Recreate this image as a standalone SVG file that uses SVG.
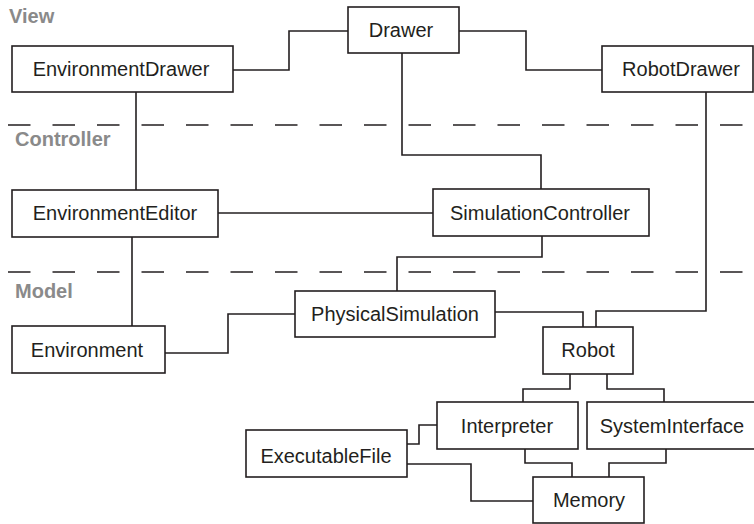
<svg xmlns="http://www.w3.org/2000/svg" width="754" height="524" viewBox="0 0 754 524">
  <style>
    .box { fill: #ffffff; stroke: #231f20; stroke-width: 1.6; }
    .lbl { font-family: "Liberation Sans", Arial, sans-serif; font-size: 20px; fill: #231f20; text-anchor: middle; }
    .layer { font-family: "Liberation Sans", Arial, sans-serif; font-size: 20px; font-weight: bold; fill: #8a8a8a; }
    .conn { fill: none; stroke: #231f20; stroke-width: 1.6; }
    .sep { fill: none; stroke: #231f20; stroke-width: 1.6; stroke-dasharray: 22.5 22; }
  </style>
  <rect width="754" height="524" fill="#ffffff"/>
  <g id="separators">
    <line class="sep" x1="8" y1="125" x2="754" y2="125"/>
    <line class="sep" x1="8" y1="272" x2="754" y2="272"/>
  </g>
  <g id="layer-labels">
    <text class="layer" x="9" y="23">View</text>
    <text class="layer" x="15" y="146">Controller</text>
    <text class="layer" x="15" y="298">Model</text>
  </g>
  <g id="connectors">
    <path class="conn" d="M233,70 H289 V31 H348"/>
    <path class="conn" d="M459,31 H526 V70 H602"/>
    <path class="conn" d="M136,92 V190"/>
    <path class="conn" d="M402,53 V155 H541 V189"/>
    <path class="conn" d="M218,213 H433"/>
    <path class="conn" d="M132,237 V326"/>
    <path class="conn" d="M542,236 V257 H397 V291"/>
    <path class="conn" d="M165,353 H228 V314 H295"/>
    <path class="conn" d="M495,312 H583 V327"/>
    <path class="conn" d="M706,92 V311 H596 V327"/>
    <path class="conn" d="M570,374 V389 H523 V402"/>
    <path class="conn" d="M607,374 V389 H664 V402"/>
    <path class="conn" d="M407,444 H419 V425 H437"/>
    <path class="conn" d="M407,464 H471 V501 H533"/>
    <path class="conn" d="M525,449 V463 H572 V477"/>
    <path class="conn" d="M666,449 V463 H609 V477"/>
  </g>
  <g id="EnvironmentDrawer">
    <rect class="box" x="12" y="46" width="221" height="46"/>
    <text class="lbl" x="121" y="76">EnvironmentDrawer</text>
  </g>
  <g id="Drawer">
    <rect class="box" x="348" y="7" width="111" height="46"/>
    <text class="lbl" x="401" y="37">Drawer</text>
  </g>
  <g id="RobotDrawer">
    <rect class="box" x="602" y="46" width="151" height="46"/>
    <text class="lbl" x="681" y="76">RobotDrawer</text>
  </g>
  <g id="EnvironmentEditor">
    <rect class="box" x="12" y="190" width="206" height="47"/>
    <text class="lbl" x="115" y="220">EnvironmentEditor</text>
  </g>
  <g id="SimulationController">
    <rect class="box" x="433" y="189" width="216" height="47"/>
    <text class="lbl" x="540" y="220">SimulationController</text>
  </g>
  <g id="PhysicalSimulation">
    <rect class="box" x="295" y="291" width="200" height="46"/>
    <text class="lbl" x="395" y="321">PhysicalSimulation</text>
  </g>
  <g id="Environment">
    <rect class="box" x="12" y="326" width="153" height="47"/>
    <text class="lbl" x="87" y="357">Environment</text>
  </g>
  <g id="Robot">
    <rect class="box" x="543" y="327" width="90" height="47"/>
    <text class="lbl" x="588" y="357">Robot</text>
  </g>
  <g id="Interpreter">
    <rect class="box" x="437" y="402" width="141" height="47"/>
    <text class="lbl" x="507" y="433">Interpreter</text>
  </g>
  <g id="SystemInterface">
    <rect class="box" x="587" y="402" width="170" height="47"/>
    <text class="lbl" x="672" y="433">SystemInterface</text>
  </g>
  <g id="ExecutableFile">
    <rect class="box" x="246" y="430" width="161" height="47"/>
    <text class="lbl" x="326" y="463">ExecutableFile</text>
  </g>
  <g id="Memory">
    <rect class="box" x="533" y="477" width="111" height="46"/>
    <text class="lbl" x="589" y="507">Memory</text>
  </g>
</svg>
